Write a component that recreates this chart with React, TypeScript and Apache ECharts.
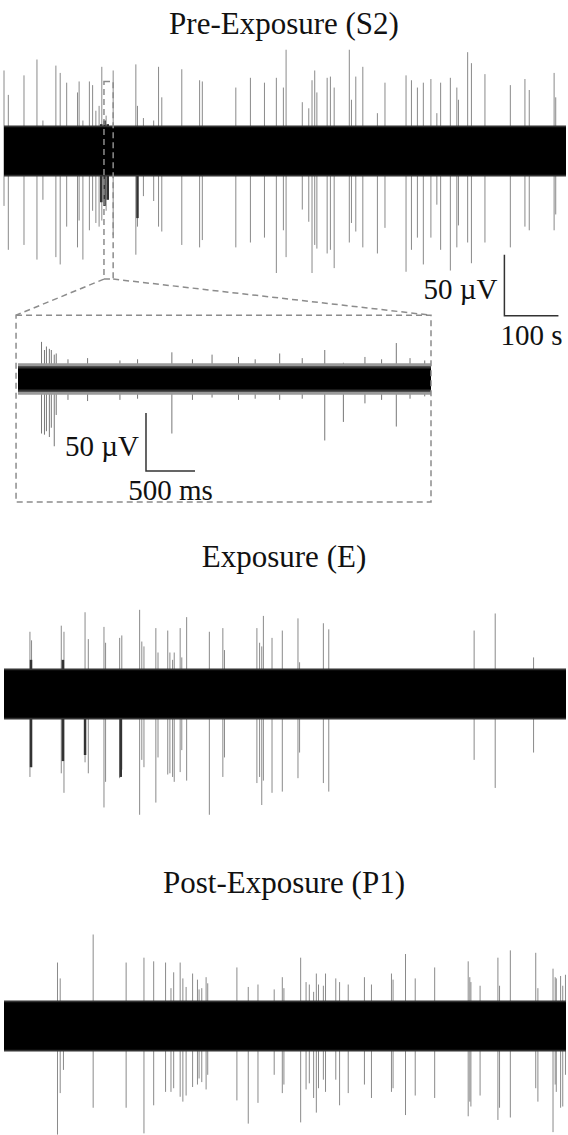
import React, { useEffect, useRef } from "react";
import * as echarts from "echarts";

// ---------- titles & labels ----------
const titles = ["Pre-Exposure (S2)", "Exposure (E)", "Post-Exposure (P1)"];
const mainScaleLabels = ["50 µV", "100 s"];
const insetScaleLabels = ["50 µV", "500 ms"];

// ---------- recording spans ----------
const mainSpan = [0, 1040]; // seconds
const insetSpan = [0, 4.214]; // seconds
const mainBand = [19.5, 21]; // core / fringe half-amplitude (µV)
const insetBand = [9, 11, 13.5]; // core / mid / fringe (µV)

// ---------- Pre-Exposure (S2) spikes: time (s), positive peak (µV), negative peak (µV) ----------
const preTime = [0, 8, 37, 61, 72, 96, 104, 116, 136, 139, 146, 158, 164, 170, 176, 181, 189, 202, 244, 247, 258, 277, 286, 292, 329, 362, 367, 429, 456, 482, 504, 517, 522, 552, 564, 570, 575, 579, 598, 604, 611, 639, 643, 651, 664, 691, 705, 744, 754, 765, 776, 790, 801, 808, 826, 838, 841, 858, 865, 890, 937, 964, 972, 1018, 1021];
const preUp = [66, 46, 62, 75, 25, 70, 64, 56, 48, 57, 25, 57, 54, 33, 37, 69, 29, 66, 71, 37, 27, 25, 69, 44, 67, 58, 57, 52, 60, 56, 60, 52, 83, 40, 35, 58, 66, 48, 60, 61, 52, 83, 42, 61, 69, 31, 56, 62, 58, 52, 56, 59, 31, 56, 60, 52, 42, 81, 72, 63, 54, 59, 50, 64, 44];
const preDown = [45, 81, 77, 89, 40, 87, 93, 62, 79, 57, 89, 65, 49, 59, 62, 57, 49, 69, 85, 62, 37, 41, 62, 66, 77, 79, 73, 79, 75, 71, 100, 65, 87, 48, 58, 100, 77, 80, 84, 81, 96, 75, 59, 66, 79, 84, 63, 99, 81, 71, 93, 71, 44, 81, 98, 79, 61, 75, 92, 75, 79, 62, 65, 65, 52];
const preBurstTime = [180, 186, 192, 247];
const preBurstUp = [22, 25, 22, 15];
const preBurstDown = [42, 45, 40, 55];

// ---------- Exposure (E) spikes ----------
const expTime = [48, 51, 106, 111, 150, 156, 185, 188, 214, 218, 251, 255, 259, 281, 285, 303, 307, 312, 315, 326, 329, 338, 380, 405, 408, 468, 473, 477, 480, 496, 515, 544, 547, 591, 601, 870, 909, 980];
const expUp = [51, 44, 56, 51, 67, 45, 55, 42, 46, 48, 69, 43, 39, 54, 34, 52, 34, 28, 34, 54, 30, 63, 51, 54, 36, 54, 42, 39, 64, 46, 52, 62, 26, 58, 53, 52, 66, 30];
const expDown = [68, 60, 65, 81, 56, 65, 93, 72, 69, 62, 99, 54, 60, 89, 52, 66, 65, 68, 72, 64, 46, 71, 99, 68, 52, 73, 68, 91, 71, 81, 80, 69, 48, 73, 80, 54, 77, 48];
const expBurstTime = [50, 109, 150, 216];
const expBurstUp = [28, 28, 20, 20];
const expBurstDown = [60, 55, 50, 68];

// ---------- Post-Exposure (P1) spikes ----------
const postTime = [99, 104, 110, 165, 226, 259, 277, 299, 309, 314, 326, 331, 337, 349, 358, 361, 366, 374, 377, 431, 452, 470, 500, 515, 518, 549, 559, 565, 573, 578, 582, 591, 595, 614, 621, 637, 667, 680, 717, 720, 743, 761, 797, 859, 862, 864, 881, 914, 917, 937, 984, 988, 1016, 1020, 1022, 1030, 1034, 1039];
const postUp = [52, 39, 15, 75, 52, 56, 53, 52, 31, 44, 52, 39, 32, 43, 38, 30, 31, 40, 35, 48, 32, 34, 30, 40, 31, 56, 36, 34, 28, 43, 34, 33, 43, 39, 36, 34, 40, 34, 43, 38, 59, 39, 48, 53, 40, 36, 33, 56, 33, 62, 60, 31, 47, 40, 39, 41, 33, 42];
const postDown = [89, 55, 36, 67, 67, 88, 65, 54, 54, 51, 58, 62, 57, 50, 48, 43, 46, 52, 40, 61, 80, 63, 40, 55, 48, 79, 52, 47, 59, 71, 51, 44, 54, 44, 65, 55, 48, 59, 54, 51, 73, 57, 59, 74, 62, 66, 57, 77, 67, 75, 51, 62, 87, 48, 54, 67, 66, 40];

// ---------- Inset (zoomed Pre-Exposure) spikes ----------
const insetTime = [0.24, 0.27, 0.29, 0.32, 0.34, 0.37, 0.39, 0.51, 0.71, 1.04, 1.22, 1.57, 1.78, 1.98, 2.25, 2.42, 2.67, 2.9, 3.13, 3.32, 3.54, 3.71, 3.86, 4.0, 4.15];
const insetUp = [32, 25, 28, 26, 25, 21, 22, 17, 18, 16, 17, 23, 17, 21, 19, 17, 22, 18, 25, 14, 19, 17, 31, 18, 16];
const insetDown = [47, 48, 45, 50, 42, 58, 31, 18, 19, 18, 17, 47, 18, 16, 18, 17, 18, 17, 53, 37, 21, 18, 41, 17, 15];

// zoom window in main trace (s, µV) and its enlarged frame in inset coordinates
const zoomWindow = [185, 202, -105, 57];
const insetFrame = [-0.02, 4.214, -106, 55];

// scale bars: [t0, v0, dt, dv]
const mainScaleBar = [926, -135, 100, 50];
const insetScaleBar = [1.306, -79.3, 0.5, 50];

const FONT = '"Liberation Serif", "Times New Roman", serif';

const zip3 = (a: number[], b: number[], c: number[]) => a.map((v, i) => [v, b[i], c[i]]);

const spikeRender = (color: string, width: number) => (_p: any, api: any) => {
  const t = api.value(0);
  const a = api.coord([t, api.value(1)]);
  const b = api.coord([t, -api.value(2)]);
  return {
    type: "line",
    shape: { x1: a[0], y1: a[1], x2: b[0], y2: b[1] },
    style: { stroke: color, lineWidth: width },
  };
};

const bandRender = (color: string) => (_p: any, api: any) => {
  const a = api.coord([api.value(0), api.value(3)]);
  const b = api.coord([api.value(1), api.value(2)]);
  return {
    type: "rect",
    shape: { x: a[0], y: a[1], width: b[0] - a[0], height: b[1] - a[1] },
    style: { fill: color },
  };
};

const frameRender = (_p: any, api: any) => {
  const a = api.coord([api.value(0), api.value(3)]);
  const b = api.coord([api.value(1), api.value(2)]);
  return {
    type: "rect",
    shape: { x: a[0], y: a[1], width: b[0] - a[0], height: b[1] - a[1] },
    style: { fill: "none", stroke: "#8c8c8c", lineWidth: 1.5, lineDash: [6, 4] },
  };
};

const scaleRender = (labels: string[]) => (_p: any, api: any) => {
  const t0 = api.value(0), v0 = api.value(1), dt = api.value(2), dv = api.value(3);
  const c = api.coord([t0, v0]);
  const top = api.coord([t0, v0 + dv]);
  const r = api.coord([t0 + dt, v0]);
  return {
    type: "group",
    children: [
      {
        type: "polyline",
        shape: { points: [top, c, r] },
        style: { stroke: "#333", lineWidth: 1.5, fill: "none" },
      },
      {
        type: "text",
        x: c[0] - 7,
        y: (top[1] + c[1]) / 2 + 4,
        style: { text: labels[0], fill: "#111", fontSize: 29, fontFamily: FONT, align: "right", verticalAlign: "middle" },
      },
      {
        type: "text",
        x: (c[0] + r[0]) / 2,
        y: c[1] + 19,
        style: { text: labels[1], fill: "#111", fontSize: 29, fontFamily: FONT, align: "center", verticalAlign: "middle" },
      },
    ],
  };
};

const custom = (gridIdx: number, data: any[], renderItem: any, z = 2) => ({
  type: "custom",
  xAxisIndex: gridIdx,
  yAxisIndex: gridIdx,
  data,
  renderItem,
  clip: false,
  silent: true,
  z,
});

const traceSeries = (gridIdx: number, t: number[], u: number[], d: number[], bt?: number[], bu?: number[], bd?: number[]) => {
  const s: any[] = [
    custom(gridIdx, [[mainSpan[0], mainSpan[1], -mainBand[1], mainBand[1]]], bandRender("#333"), 3),
    custom(gridIdx, [[mainSpan[0], mainSpan[1], -mainBand[0], mainBand[0]]], bandRender("#000"), 4),
    custom(gridIdx, zip3(t, u, d), spikeRender("#8a8a8a", 1), 2),
  ];
  if (bt && bu && bd) s.push(custom(gridIdx, zip3(bt, bu, bd), spikeRender("#333", 2.5), 2));
  return s;
};

export default function App() {
  const ref = useRef<HTMLDivElement>(null);
  useEffect(() => {
    if (!ref.current) return;
    const chart = echarts.init(ref.current, undefined, { renderer: "svg" });
    const MPX = 1.22; // px per µV main
    const IPX = 1.16; // px per µV inset
    const mainY = [-88, 90];
    const insetY = [-110, 60];
    const centers = [151, 694, 1026];
    const mainGrid = (cy: number) => ({
      left: 4,
      width: 562,
      top: cy - mainY[1] * MPX,
      height: (mainY[1] - mainY[0]) * MPX,
    });
    const grids = [
      mainGrid(centers[0]),
      { left: 18, width: 413, top: 379 - insetY[1] * IPX, height: (insetY[1] - insetY[0]) * IPX },
      mainGrid(centers[1]),
      mainGrid(centers[2]),
    ];
    const xAxes = grids.map((_, i) => ({
      type: "value",
      gridIndex: i,
      min: i === 1 ? insetSpan[0] : mainSpan[0],
      max: i === 1 ? insetSpan[1] : mainSpan[1],
      show: false,
    }));
    const yAxes = grids.map((_, i) => ({
      type: "value",
      gridIndex: i,
      min: i === 1 ? insetY[0] : mainY[0],
      max: i === 1 ? insetY[1] : mainY[1],
      show: false,
    }));
    const series: any[] = [
      ...traceSeries(0, preTime, preUp, preDown, preBurstTime, preBurstUp, preBurstDown),
      ...traceSeries(2, expTime, expUp, expDown, expBurstTime, expBurstUp, expBurstDown),
      ...traceSeries(3, postTime, postUp, postDown),
      // inset
      custom(1, [[insetSpan[0], insetSpan[1], -insetBand[2], insetBand[2]]], bandRender("#9a9a9a"), 3),
      custom(1, [[insetSpan[0], insetSpan[1], -insetBand[1], insetBand[1]]], bandRender("#333"), 4),
      custom(1, [[insetSpan[0], insetSpan[1], -insetBand[0], insetBand[0]]], bandRender("#000"), 5),
      custom(1, zip3(insetTime, insetUp, insetDown), spikeRender("#777", 1), 2),
      // frames
      custom(0, [zoomWindow], frameRender, 6),
      custom(1, [insetFrame], frameRender, 6),
      // scale bars
      custom(0, [mainScaleBar], scaleRender(mainScaleLabels), 6),
      custom(1, [insetScaleBar], scaleRender(insetScaleLabels), 6),
    ];
    const titleTops = [3, 536, 862];
    chart.setOption({
      animation: false,
      backgroundColor: "#fff",
      title: titles.map((t, i) => ({
        text: t,
        left: "center",
        top: titleTops[i],
        textStyle: { fontFamily: FONT, fontSize: 31, fontWeight: "normal", color: "#111" },
      })),
      grid: grids,
      xAxis: xAxes,
      yAxis: yAxes,
      series,
    });
    // connectors between zoom window and inset frame
    const bl = chart.convertToPixel({ gridIndex: 0 }, [zoomWindow[0], zoomWindow[2]]) as number[];
    const br = chart.convertToPixel({ gridIndex: 0 }, [zoomWindow[1], zoomWindow[2]]) as number[];
    const tl = chart.convertToPixel({ gridIndex: 1 }, [insetFrame[0], insetFrame[3]]) as number[];
    const tr = chart.convertToPixel({ gridIndex: 1 }, [insetFrame[1], insetFrame[3]]) as number[];
    const dash = { stroke: "#8c8c8c", lineWidth: 1.5, lineDash: [6, 4] };
    chart.setOption({
      graphic: [
        { type: "line", shape: { x1: bl[0], y1: bl[1], x2: tl[0], y2: tl[1] }, style: dash, silent: true },
        { type: "line", shape: { x1: br[0], y1: br[1], x2: tr[0], y2: tr[1] }, style: dash, silent: true },
      ],
    });
    return () => chart.dispose();
  }, []);
  return <div ref={ref} style={{ position: "absolute", left: 0, top: 0, width: 568, height: 1135 }} />;
}
